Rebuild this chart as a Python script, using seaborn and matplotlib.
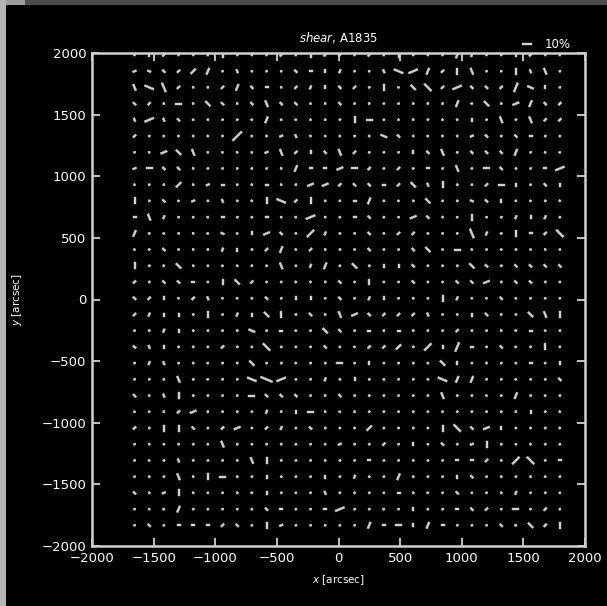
import numpy as np
import pandas as pd
import matplotlib
matplotlib.use("Agg")
import matplotlib.pyplot as plt
from matplotlib.patches import Rectangle
import seaborn as sns

# Grid of measurement positions (arcsec)
x_cols = [-1655, -1536, -1417, -1298, -1179, -1060, -941, -822, -703, -584,
          -465, -346, -227, -108, 11, 130, 249, 368, 487, 606,
          725, 844, 963, 1082, 1201, 1320, 1439, 1558, 1677, 1796]
y_rows = [1984, 1852, 1721, 1589, 1458, 1326, 1194, 1063, 931, 800,
          668, 536, 405, 273, 142, 10, -122, -253, -385, -516,
          -648, -780, -911, -1043, -1174, -1306, -1438, -1569, -1701, -1832]

# Shear orientation per cell, one letter per column (a=0deg ... h=157.5deg)
angle_rows = [
    "aecaaaeaaacaec" "cacaeaaaddaaecaa",
    "bhgccdafeaegae" "daefhbdcefaeeffa",
    "fhfceccdgaecde" "gcaegggcbggcdhea",
    "gceaeggegfggge" "gadaaaccdggabdgc",
    "fbfggcaagdggee" "aeaaedaefeafafcc",
    "caegeeccecbfee" "caehgcgecbgagaaa",
    "aebgfegfebfceg" "fcaaaegfagggdagg",
    "baggeaaccaedaa" "bacacaaafaagaaab",
    "eaccebaaeaecbb" "cggacgfeaacaeage",
    "eaggbafaeehceg" "aadagagaahgeagae",
    "afdaggaaaaegbe" "aagaabgcgeaadeda",
    "dagaeghgebgacd" "aagaccaaafdaeacg",
    "gagaecdeacdece" "aagaaggaaeaaaaea",
    "eaegeagecafadd" "agaeegaaaggagggg",
    "caggaaegcageee" "gaeaagaaggbaggaa",
    "gcegcfggcgaeef" "gadeaeaedeggeagc",
    "cdeeaeadegeage" "fbgcccfaaegcagfe",
    "aadeaaaahaagag" "gaacaacacaaegaga",
    "gfeaeacaagaaag" "agcccacedaaggaec",
    "adfaegaegaaeaa" "aaeaaaageacaaage",
    "aacfagaahhbaad" "aeacaaahddaagaag",
    "ggfeaaacagggae" "gaaaaaafaagadaga",
    "ggccbcaaaddeae" "gcaaaaaaaaaaceae",
    "caeegacbacdaga" "aacaaaaeggbeaaae",
    "aeaaacfaaaeaag" "baacaeagabeaacaa",
    "agafaaaafeaaae" "aaaaaaaaaacacgaa",
    "aaafeeaaaeaaae" "adaadaaaegaaacga",
    "gabeeaaageaaaf" "acaaaagagaaadaaa",
    "aggdaaaaagaaaa" "baagaeaaagcaagca",
    "agaaaacgaebaae" "aadaaedaaaagggce",
]

# Shear amplitude class per cell (1 = weakest ... 5 = strongest)
size_rows = [
    "12211131112132" "2121311132112211",
    "22223312111222" "2112443233113231",
    "34421123221222" "2213134242224321",
    "22131321232211" "2111111131313322",
    "24221111131111" "1331111112131322",
    "21111115112211" "1113211112212211",
    "11333111123222" "3211122312223111",
    "23221111111322" "3321212131321124",
    "11131221121133" "2222232311232122",
    "31212121134231" "1231113112221111",
    "23211121121141" "1221132113112221",
    "31111121232142" "1121221114213224",
    "11211122123121" "1121123131111111",
    "31131111113123" "1312221113212222",
    "21222133211111" "2131121122312211",
    "22212211121221" "2122111321121111",
    "22221312233121" "3322222112211333",
    "11221111312113" "2121211121111211",
    "22211121141112" "1122314242121131",
    "12211111311111" "3121111321111212",
    "11131111454112" "1211111433111112",
    "21231111322211" "2111111311113111",
    "11123111121231" "1111111111111211",
    "21332123122121" "1131111342321111",
    "11111131111111" "2112121212311111",
    "11121111331111" "1121111122214412",
    "11131331121112" "1211311122111111",
    "21231111121112" "1111211121112111",
    "11131111122112" "4111121122213121",
    "12122222132111" "1132323211121323",
]

angle_code = {c: 22.5 * i for i, c in enumerate("abcdefgh")}
size_code = {"1": 1.5, "2": 4.0, "3": 7.0, "4": 10.0, "5": 13.0}   # percent

records = []
for yv, arow, srow in zip(y_rows, angle_rows, size_rows):
    for xv, ac, sc in zip(x_cols, arow, srow):
        th = np.deg2rad(angle_code[ac])
        g = size_code[sc]
        records.append((xv, yv, g * np.cos(th), g * np.sin(th)))
shear = pd.DataFrame(records, columns=["x", "y", "u", "v"])

sns.set_theme(style="dark", rc={
    "figure.facecolor": "black",
    "axes.facecolor": "black",
    "axes.edgecolor": "#d0d0d0",
    "axes.linewidth": 1.8,
    "axes.grid": False,
    "text.color": "white",
    "axes.labelcolor": "white",
    "xtick.color": "#d0d0d0",
    "ytick.color": "#d0d0d0",
    "xtick.labelcolor": "white",
    "ytick.labelcolor": "white",
    "xtick.direction": "in",
    "ytick.direction": "in",
    "xtick.top": True,
    "ytick.right": True,
    "xtick.bottom": True,
    "ytick.left": True,
})
plt.rcParams["font.family"] = ["DejaVu Sans"]
plt.rcParams["mathtext.fontset"] = "dejavusans"

fig = plt.figure(figsize=(6.07, 6.06), dpi=100)
ax = fig.add_axes([92 / 607, 60 / 606, 493 / 607, 493 / 606])

stick = "#d2d2d2"
q = ax.quiver(shear["x"], shear["y"], shear["u"], shear["v"],
              pivot="middle", headwidth=0, headlength=0, headaxislength=0,
              scale_units="xy", scale=1 / 8.1, width=0.004, minlength=1.3,
              color=stick, linewidth=0.3, edgecolor=stick)

ax.quiverkey(q, X=532 / 607, Y=1 - 44 / 606, U=10, label="10%", labelpos="E",
             coordinates="figure", color=stick, labelcolor="white",
             labelsep=0.13, fontproperties={"size": 8.5})

ax.set_xlim(-2000, 2000)
ax.set_ylim(-2000, 2000)
ticks = [-2000, -1500, -1000, -500, 0, 500, 1000, 1500, 2000]
ax.set_xticks(ticks)
ax.set_yticks(ticks)
ax.tick_params(axis="both", which="major", length=6, width=1.3, pad=4,
               labelsize=9.5)

ax.set_title(r"$\it{shear}$, A1835", color="white", fontsize=8.5, pad=8)
ax.set_xlabel(r"$x$ [arcsec]", fontsize=7.5, labelpad=6)
ax.set_ylabel(r"$y$ [arcsec]", fontsize=7.5, labelpad=13)

# thin grey frame strips along the top and left edges
fig.patches.append(Rectangle((0, 1 - 5 / 606), 1, 5 / 606, transform=fig.transFigure,
                             facecolor="#4d4d4d", edgecolor="none", zorder=-5))
fig.patches.append(Rectangle((0, 1 - 5 / 606), 25 / 607, 5 / 606, transform=fig.transFigure,
                             facecolor="#9c9c9c", edgecolor="none", zorder=-4))
fig.patches.append(Rectangle((0, 0), 6 / 607, 1, transform=fig.transFigure,
                             facecolor="#b4b4b4", edgecolor="none", zorder=-4))

fig.savefig("out.png", dpi=100, facecolor="black")
